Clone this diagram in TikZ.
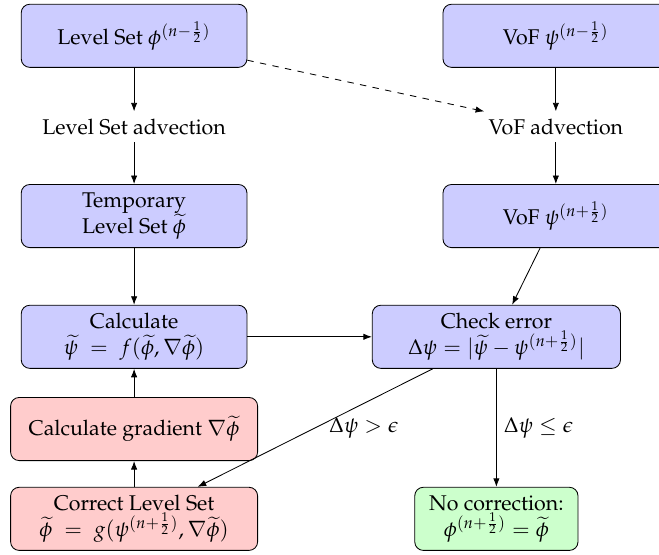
\documentclass[tikz,border=0pt]{standalone}
\usepackage{amsmath, amssymb}
\usepackage[T1]{fontenc}
\usepackage{mathpazo}
\usepackage{tikz}
\usetikzlibrary{arrows.meta,calc,positioning}

\tikzset{
  bluebox/.style={draw, rounded corners=4pt, fill=blue!20, align=center,
    minimum width=3.72cm, minimum height=1.04cm},
  redbox/.style={bluebox, fill=red!20, minimum width=4.07cm},
  greenbox/.style={bluebox, fill=green!20, minimum width=2.69cm},
  plain/.style={align=center},
  flow/.style={-{Latex[length=4pt,width=3pt]}}
}

\begin{document}
\begin{tikzpicture}
            \def\xr{6.95}
            \def\xc{5.97}
            \useasboundingbox (-2.21,0.59) rectangle (8.65,-8.55);
            \node[bluebox] (ls) at (0,0) {Level Set $\phi^{(n-\frac{1}{2})}$};
            \node[bluebox] (vof) at (\xr,0) {VoF $\psi^{(n-\frac{1}{2})}$};
            \node[plain] (lsadv) at (0,-1.5) {Level Set advection};
            \node[plain] (vofadv) at (\xr,-1.5) {VoF advection};
            \node[bluebox] (tmp) at (0,-2.97) {Temporary\\Level Set $\widetilde{\phi}$};
            \node[bluebox] (vofnew) at (\xr,-2.97) {VoF $\psi^{(n+\frac{1}{2})}$};
            \node[bluebox] (calc) at (0,-4.96)
              {Calculate\\$\widetilde{\psi}\;=\;f(\widetilde{\phi},\nabla\widetilde{\phi})$};
            \node[bluebox, minimum width=4.09cm] (check) at (\xc,-4.96)
              {Check error\\$\Delta\psi = |\widetilde{\psi}-\psi^{(n+\frac{1}{2})}|$};
            \node[redbox] (grad) at (0,-6.48) {Calculate gradient $\nabla\widetilde{\phi}$};
            \node[redbox] (corr) at (0,-7.96)
              {Correct Level Set\\$\widetilde{\phi}\;=\;g(\psi^{(n+\frac{1}{2})},\nabla\widetilde{\phi})$};
            \node[greenbox] (nocorr) at (\xc,-7.96)
              {No correction:\\$\phi^{(n+\frac{1}{2})} = \widetilde{\phi}$};
            \draw[flow] (ls) -- (lsadv);
            \draw[flow] (lsadv) -- (tmp);
            \draw[flow] (tmp) -- (calc);
            \draw[flow] (vof) -- (vofadv);
            \draw[flow] (vofadv) -- (vofnew);
            \draw[flow, dashed] (ls) -- (vofadv);
            \draw[flow] (calc) -- (check);
            \draw[flow] (vofnew) -- (check);
            \draw[flow] (check) -- node[right=3pt] {$\Delta\psi > \epsilon$} (corr);
            \draw[flow] (check) -- node[right] {$\Delta\psi \leq \epsilon$} (nocorr);
            \draw[flow] (corr) -- (grad);
            \draw[flow] (grad) -- (calc);
          \end{tikzpicture}
\end{document}
